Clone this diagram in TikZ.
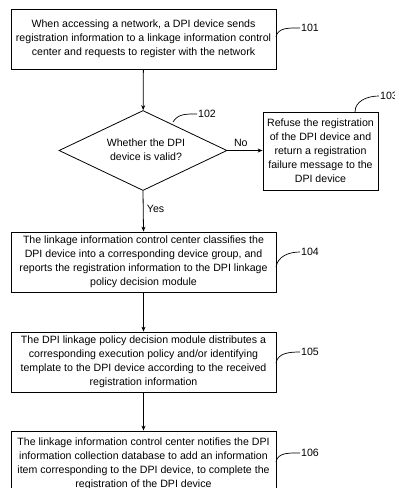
\documentclass[tikz,border=0pt]{standalone}
\usepackage{fontspec}
\setmainfont{Liberation Sans}
\usetikzlibrary{shapes.geometric,arrows.meta}
\begin{document}
\begin{tikzpicture}[x=1pt,y=-1pt,
  every node/.style={font=\fontsize{10.6}{14}\selectfont},
  stepbox/.style={draw,line width=0.8pt,minimum width=265pt,minimum height=60pt,align=center,inner sep=2pt},
  decbox/.style={draw,line width=0.8pt,diamond,minimum width=168pt,minimum height=80pt,inner sep=0pt,aspect=2.1},
  arr/.style={line width=0.8pt,-{Stealth[length=5pt,width=4pt]}},
  lead/.style={line width=0.7pt},
  numlbl/.style={anchor=west,inner sep=1pt}]
\useasboundingbox (0,0) rectangle (395,488);
\node[stepbox] (b101) at (143.5,39) {When accessing a network, a DPI device sends\\registration information to a linkage information control\\center and requests to register with the network};
\node[decbox] (d102) at (143,150.5) {};
\node[align=center] (t102) at (146,150) {Whether the DPI\\device is valid?};
\node[stepbox,minimum width=115pt,minimum height=78pt] (b103) at (320.5,151) {Refuse the registration\\of the DPI device and\\return a registration\\failure message to the\\DPI device};
\node[stepbox] (b104) at (143.5,262) {The linkage information control center classifies the\\DPI device into a corresponding device group, and\\reports the registration information to the DPI linkage\\policy decision module};
\node[stepbox] (b105) at (143.5,362) {The DPI linkage policy decision module distributes a\\corresponding execution policy and/or identifying\\template to the DPI device according to the received\\registration information};
\node[stepbox,minimum height=66pt] (b106) at (143.5,464) {The linkage information control center notifies the DPI\\information collection database to add an information\\item corresponding to the DPI device, to complete the\\registration of the DPI device};
% arrows
\draw[arr] (b101) -- (d102);
\draw[arr] (d102.east) -- node[above,pos=0.38] (no) {No} (b103.west |- d102.east);
\draw[arr] (d102.south) -- node[right,pos=0.45] (yes) {Yes} (b104.north);
\draw[arr] (b104) -- (b105);
\draw[arr] (b105) -- (b106);
% step labels
\node[numlbl] (l101) at (300,28) {101};
\node[numlbl] (l102) at (197,114) {102};
\node[numlbl] (l103) at (379,96) {103};
\node[numlbl] (l104) at (300,252) {104};
\node[numlbl] (l105) at (300,352) {105};
\node[numlbl] (l106) at (300,453) {106};
\coordinate (c101) at (276,37);
\coordinate (c102) at (173,122);
\coordinate (c103) at (355,112);
\coordinate (c104) at (276,267);
\coordinate (c105) at (276,363);
\coordinate (c106) at (276,462);
\draw[lead] (c101) to[out=80,in=180] (l101.west);
\draw[lead] (c102) to[out=60,in=180] (l102.west);
\draw[lead] (c103) to[out=90,in=180] (l103.west);
\draw[lead] (c104) to[out=80,in=180] (l104.west);
\draw[lead] (c105) to[out=80,in=180] (l105.west);
\draw[lead] (c106) to[out=80,in=180] (l106.west);
\end{tikzpicture}
\end{document}
